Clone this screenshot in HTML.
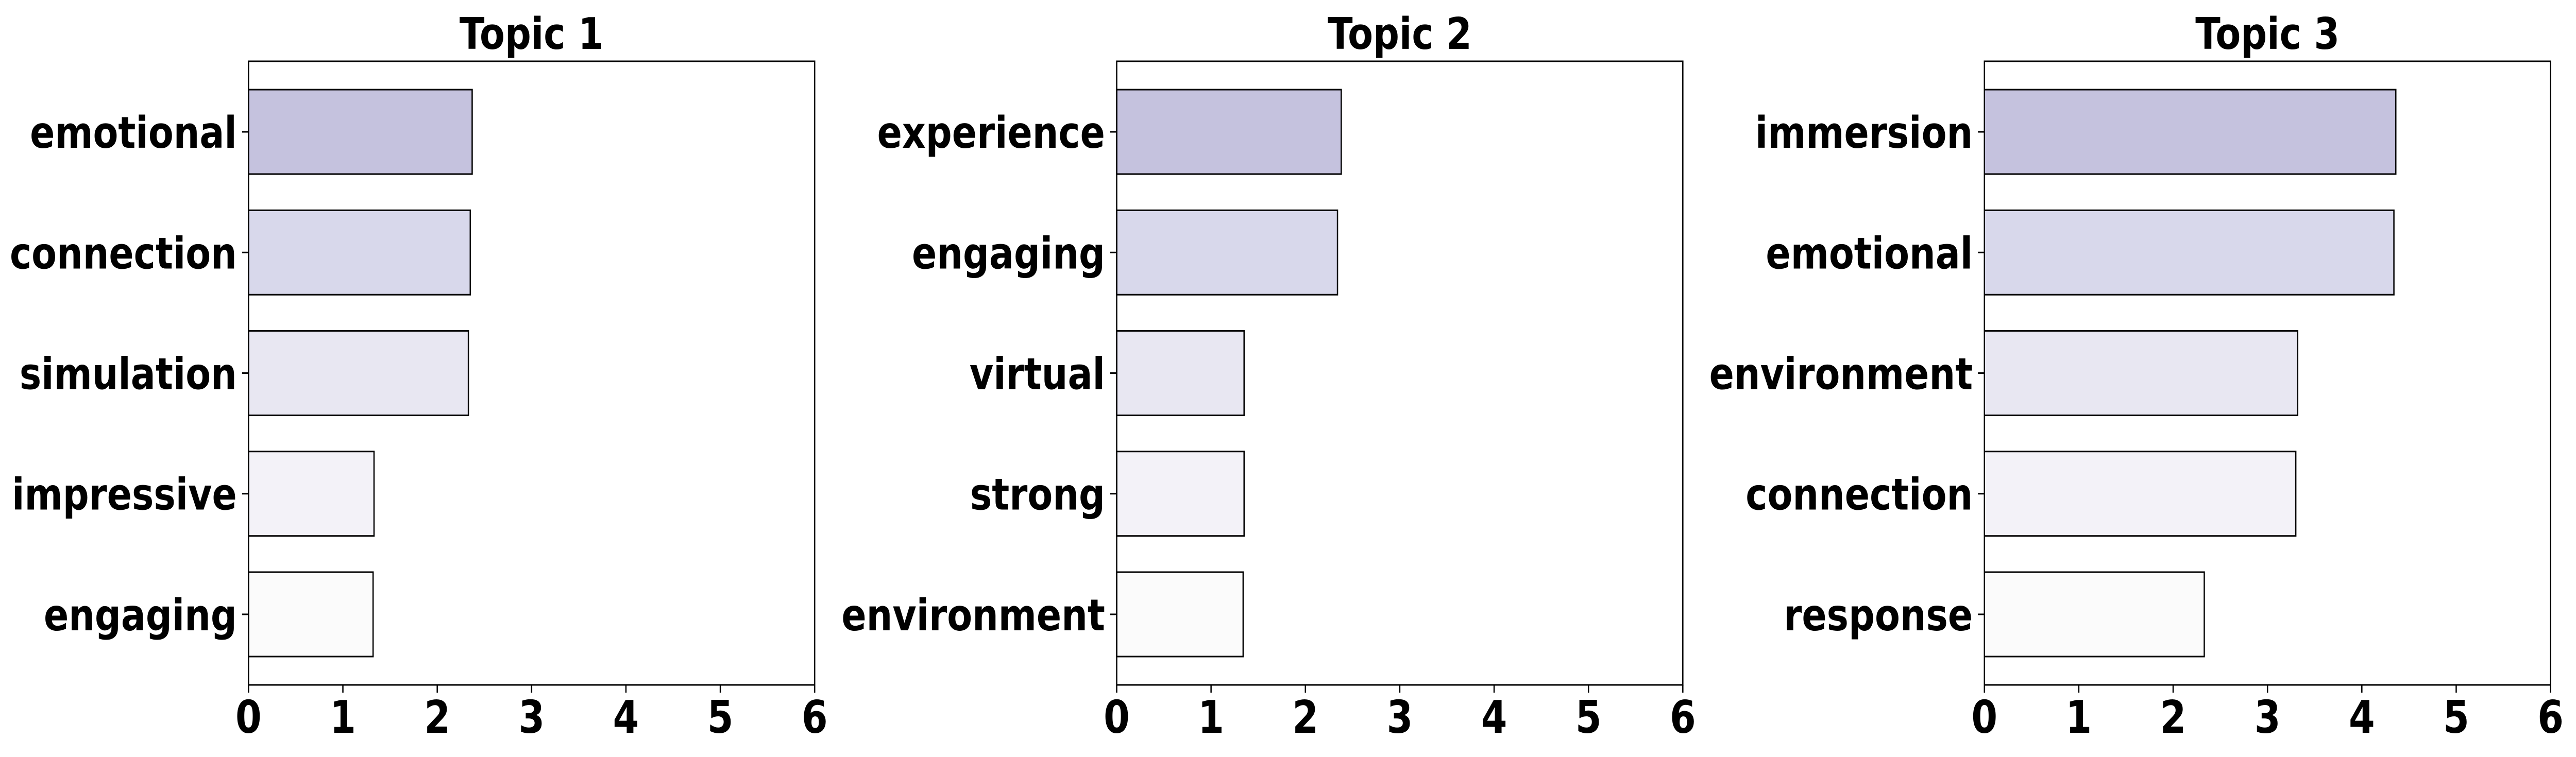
<!DOCTYPE html>
<html><head><meta charset="utf-8">
<style>
html,body{margin:0;padding:0;background:#fff;overflow:hidden;width:100%;height:100%;}
svg{display:block;width:100vw;height:100vh;}
text{font-family:"DejaVu Sans","Liberation Sans",sans-serif;font-weight:bold;fill:#000;}
</style></head>
<body>
<svg id="chart" viewBox="0 0 5970 1470" preserveAspectRatio="none" xmlns="http://www.w3.org/2000/svg"></svg>
<script>
const titles = ["Topic 1", "Topic 2", "Topic 3"];
const words1 = ["emotional", "connection", "simulation", "impressive", "engaging"];
const words2 = ["experience", "engaging", "virtual", "strong", "environment"];
const words3 = ["immersion", "emotional", "environment", "connection", "response"];
const values1 = [2.37, 2.35, 2.33, 1.33, 1.32];
const values2 = [2.38, 2.34, 1.35, 1.35, 1.34];
const values3 = [4.36, 4.34, 3.32, 3.30, 2.33];
const xTicks = [0, 1, 2, 3, 4, 5, 6];
const colors = ["#c5c2de", "#d8d8eb", "#e8e7f2", "#f3f2f8", "#fbfbfb"];

const NS = "http://www.w3.org/2000/svg";
const svgEl = document.getElementById("chart");
function mk(tag, attrs, parent){
  const e = document.createElementNS(NS, tag);
  for (const k in attrs) e.setAttribute(k, attrs[k]);
  (parent||svgEl).appendChild(e);
  return e;
}
const panels = [[words1, values1], [words2, values2], [words3, values3]];
const lefts = [576, 2588, 4599];
const panelW = 1312, axTop = 119, axBottom = 1330;
const xmin = 0, xmax = 6;
const ymin = -0.585, ymax = 4.585;
panels.forEach((p, pi) => {
  const words = p[0], vals = p[1];
  const L = lefts[pi];
  const g = mk("g", {});
  
  
  const xs = v => L + (v - xmin) / (xmax - xmin) * panelW;
  const ys = i => axTop + (i - ymin) / (ymax - ymin) * (axBottom - axTop);
  const t = mk("text", {x: L + panelW/2, y: 95, "text-anchor": "middle", "font-size": 85}, g);
  t.textContent = titles[pi];
  
  
  vals.forEach((v, i) => {
    const yc = ys(i);
    const h = 0.7 / (ymax - ymin) * (axBottom - axTop);
    const r = mk("rect", {x: xs(0), y: yc - h/2, width: xs(v) - xs(0), height: h, fill: colors[i], stroke: "#000", "stroke-width": 3}, g);
    
    
    mk("line", {x1: L - 15, x2: L, y1: yc, y2: yc, stroke: "#000", "stroke-width": 3}, g);
    const lb = mk("text", {x: L - 27, y: yc + 31, "text-anchor": "end", "font-size": 85}, g);
    lb.textContent = words[i];
    
    
  });
  const fr = mk("rect", {x: L, y: axTop, width: panelW, height: axBottom - axTop, fill: "none", stroke: "#000", "stroke-width": 3}, g);
  
  
  xTicks.forEach(tv => {
    const x = xs(tv);
    mk("line", {x1: x, x2: x, y1: axBottom, y2: axBottom + 15, stroke: "#000", "stroke-width": 3}, g);
    const tl = mk("text", {x: x, y: 1423, "text-anchor": "middle", "font-size": 87}, g);
    tl.textContent = tv;
    
    
  });
});
</script>
</body></html>
